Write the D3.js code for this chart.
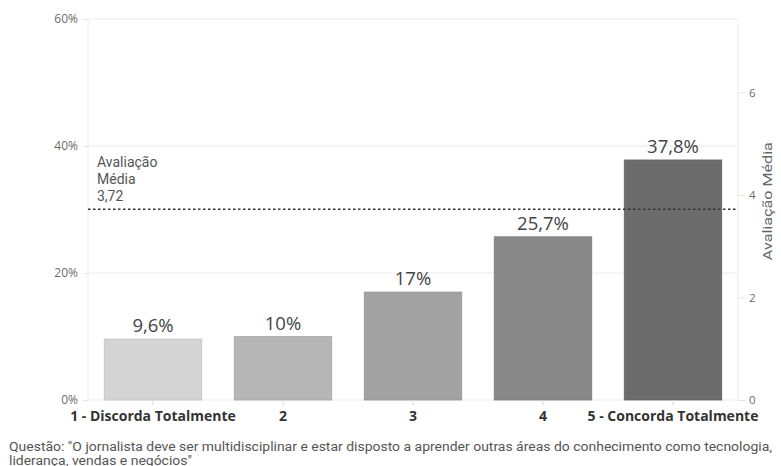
<!DOCTYPE html>
<html>
<head>
<meta charset="utf-8">
<script src="https://cdn.jsdelivr.net/npm/d3@7"></script>
<style>
  html, body { margin: 0; padding: 0; background: #fff; }
  svg { display: block; font-family: "Open Sans", "Noto Sans", sans-serif; }
</style>
</head>
<body>
<svg id="chart" width="781" height="466"></svg>
<script>
// Response categories and share of respondents (%)
const categories = ["1 - Discorda Totalmente", "2", "3", "4", "5 - Concorda Totalmente"];
const shares = [9.6, 10, 17, 25.7, 37.8];
const shareLabels = ["9,6%", "10%", "17%", "25,7%", "37,8%"];
const barColors = ["#d4d4d4", "#b6b6b6", "#a2a2a2", "#888888", "#6c6c6c"];

// Left axis (percent) and right axis (average rating) ticks
const pctTicks = [0, 20, 40, 60];
const pctTickLabels = ["0%", "20%", "40%", "60%"];
const ratingTicks = [0, 2, 4, 6];
const averageRating = 3.72;
const averageLabel = ["Avaliação", "Média", "3,72"];

const questionLines = [
  "Questão: \"O jornalista deve ser multidisciplinar e estar disposto a aprender outras áreas do conhecimento como tecnologia,",
  "liderança, vendas e negócios\""
];

const svg = d3.select("#chart");
const m = { left: 88, right: 738, top: 19, bottom: 400 };

const x = d3.scaleBand().domain(categories).range([m.left, m.right])
  .paddingInner(0.25).paddingOuter(0.125);
const y = d3.scaleLinear().domain([0, 60]).range([m.bottom, m.top]);
const yR = d3.scaleLinear().domain([0, 7.43]).range([m.bottom, m.top]);

// Gridlines
svg.append("g").selectAll("line").data(pctTicks).join("line")
  .attr("x1", m.left).attr("x2", m.right)
  .attr("y1", d => y(d)).attr("y2", d => y(d))
  .attr("stroke", "#ebebeb").attr("stroke-width", 1);

// Frame sides
svg.append("line").attr("x1", m.left).attr("x2", m.left)
  .attr("y1", m.top).attr("y2", m.bottom).attr("stroke", "#ebebeb");
svg.append("line").attr("x1", m.right).attr("x2", m.right)
  .attr("y1", m.top).attr("y2", m.bottom).attr("stroke", "#ebebeb");

// Left axis
const yAxis = d3.axisLeft(y).tickValues(pctTicks)
  .tickFormat((d, i) => pctTickLabels[i]).tickSize(5).tickPadding(5);
const gy = svg.append("g").attr("transform", `translate(${m.left},0)`).call(yAxis);
gy.select(".domain").remove();
gy.selectAll(".tick line").attr("stroke", "#e3e3e3");
gy.selectAll(".tick text").attr("fill", "#6b6b6b")
  .style("font-size", "12px").style("font-family", "'Open Sans', sans-serif");

// Right axis
const yRAxis = d3.axisRight(yR).tickValues(ratingTicks).tickSize(7).tickPadding(4);
const gyr = svg.append("g").attr("transform", `translate(${m.right},0)`).call(yRAxis);
gyr.select(".domain").remove();
gyr.selectAll(".tick line").attr("stroke", "#e3e3e3");
gyr.selectAll(".tick text").attr("fill", "#6b6b6b")
  .style("font-size", "11.5px").style("font-family", "'Open Sans', sans-serif");

svg.append("text")
  .attr("transform", `translate(772,${(yR(4) + yR(2)) / 2 - 45}) rotate(-90)`)
  .attr("text-anchor", "middle")
  .attr("fill", "#666")
  .style("font-family", "Roboto, sans-serif")
  .style("font-size", "12.5px")
  .attr("textLength", 118).attr("lengthAdjust", "spacingAndGlyphs")
  .text("Avaliação Média");

// Bars
svg.append("g").selectAll("rect").data(shares).join("rect")
  .attr("x", (d, i) => x(categories[i]))
  .attr("width", x.bandwidth())
  .attr("y", d => y(d))
  .attr("height", d => y(0) - y(d))
  .attr("fill", (d, i) => barColors[i])
  .attr("stroke", (d, i) => d3.color(barColors[i]).darker(0.25))
  .attr("stroke-width", 0.8);

// Bar value labels
svg.append("g").selectAll("text").data(shares).join("text")
  .attr("x", (d, i) => x(categories[i]) + x.bandwidth() / 2)
  .attr("y", d => y(d) - 7)
  .attr("text-anchor", "middle")
  .attr("fill", "#444")
  .style("font-size", "18.5px")
  .text((d, i) => shareLabels[i]);

// Bottom axis
const xAxis = d3.axisBottom(x).tickSize(5).tickPadding(6);
const gx = svg.append("g").attr("transform", `translate(0,${m.bottom})`).call(xAxis);
gx.select(".domain").remove();
gx.selectAll(".tick line").attr("stroke", "#d8d8d8");
gx.selectAll(".tick text").attr("fill", "#333")
  .style("font-size", "14px").style("font-weight", "bold")
  .style("font-family", "'Open Sans', sans-serif");

// Average rating reference line
const avgY = yR(averageRating);
svg.append("line")
  .attr("x1", m.left).attr("x2", m.right)
  .attr("y1", avgY).attr("y2", avgY)
  .attr("stroke", "#333").attr("stroke-width", 1.6)
  .attr("stroke-dasharray", "2.5,2.5");

svg.append("g").selectAll("text").data(averageLabel).join("text")
  .attr("x", 97)
  .attr("y", (d, i) => avgY - 42 + i * 17)
  .attr("fill", "#555")
  .style("font-family", "Roboto, sans-serif")
  .style("font-size", "14px")
  .text(d => d);

// Question caption: narrow setting so the first line spans the chart width
const capSize = 12.5;
const cap = svg.append("g").selectAll("text").data(questionLines).join("text")
  .attr("x", 9)
  .attr("y", (d, i) => 451 + i * 13.5)
  .attr("fill", "#555")
  .style("font-family", "Roboto, sans-serif")
  .style("font-size", capSize + "px")
  .text(d => d);
const w0 = cap.nodes()[0].getComputedTextLength();
const squeeze = 763 / w0;
cap.each(function () {
  const w = this.getComputedTextLength();
  d3.select(this).attr("textLength", w * squeeze).attr("lengthAdjust", "spacingAndGlyphs");
});
</script>
</body>
</html>
